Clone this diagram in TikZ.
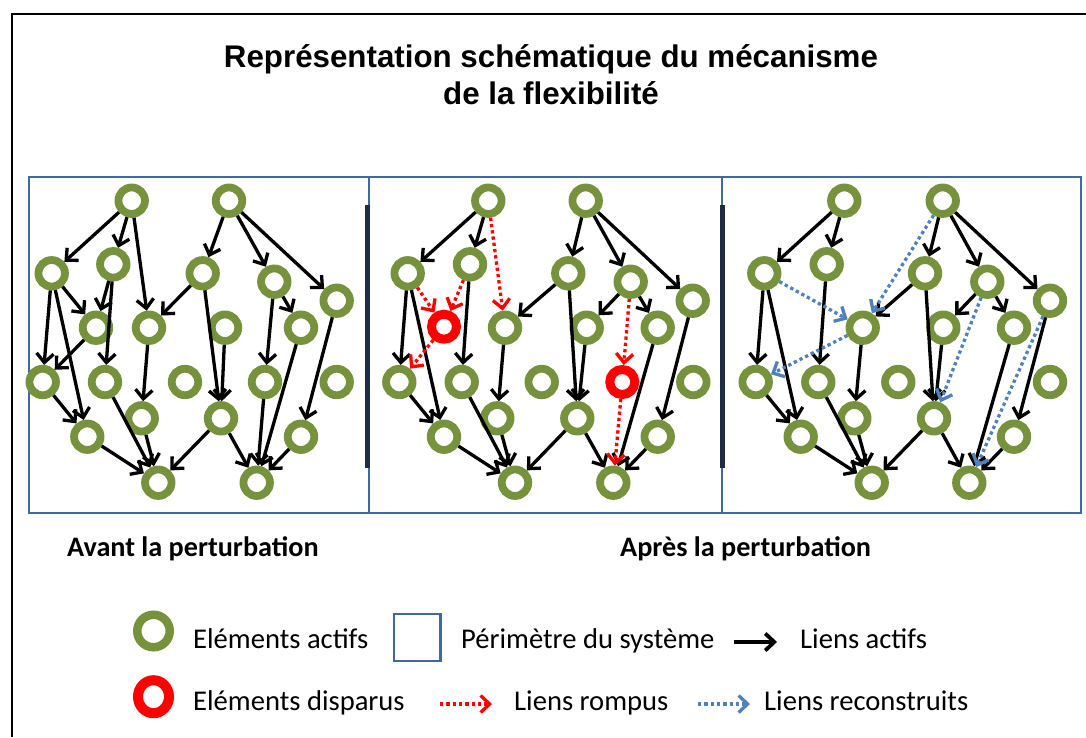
\documentclass[tikz,border=0pt]{standalone}
\usepackage{fontspec}
\setmainfont{Carlito}
\newfontfamily\titlefont{Liberation Sans}
\usetikzlibrary{arrows.meta,shapes.geometric}
\definecolor{ringgreen}{RGB}{118,146,60}
\definecolor{lostred}{RGB}{255,0,0}
\definecolor{frameblue}{RGB}{65,105,160}
\definecolor{rebuiltblue}{RGB}{79,129,189}
\definecolor{barnavy}{RGB}{31,45,68}
\newcommand\legfont{\fontsize{28.6}{34}\selectfont}
\newcommand\capfont{\fontsize{28.2}{34}\selectfont\bfseries}
\newcommand\ttlfont{\titlefont\bfseries\fontsize{31.3}{36}\selectfont}
\begin{document}
\begin{tikzpicture}[x=1pt,y=-1pt,
  elem/.style={circle, draw=ringgreen, line width=7.8pt, minimum size=26.5pt, inner sep=0pt},
  gone/.style={circle, draw=lostred, line width=9pt, minimum size=25pt, inner sep=0pt},
  link/.style={line width=3.3pt, -{Straight Barb[length=9pt,width=17pt]}},
  broken/.style={link, draw=lostred, dash pattern=on 3.3pt off 3pt},
  rebuilt/.style={link, draw=rebuiltblue, dash pattern=on 3.3pt off 3pt},
  lbl/.style={anchor=base west, inner sep=0pt, font=\legfont},
  panel/.style={draw=frameblue, line width=2.5pt},
  sep/.style={draw=barnavy, line width=5pt}
]
\useasboundingbox (0,0) rectangle (1086,737);
\fill[white] (0,0) rectangle (1086,737);
% outer frame
\draw[line width=2.5pt] (12,737) -- (12,14) -- (1086,14);
% title
\node[anchor=base, inner sep=0pt, font=\ttlfont] (title1) at (551,67) {Représentation schématique du mécanisme};
\node[anchor=base, inner sep=0pt, font=\ttlfont] (title2) at (551,104) {de la flexibilité};
% panels
\draw[panel] (29,177) rectangle (1081,513);
\draw[panel] (369,177) -- (369,513);
\draw[panel] (722,177) -- (722,513);
\draw[sep] (367.5,205) -- (367.5,468);
\draw[sep] (722.5,205) -- (722.5,468);
% panel 1 nodes
\foreach \n/\x/\y in {A/131.7/200.7, B/229/200.7, C/51.7/273.3, D/113.3/264.3, E/202.7/273.3,
  F/274.3/281.7, G/336.7/300.7, H/96/327.7, I/149/327.7, J/225/327.7, K/301/327.7,
  L/42.7/382, M/105/382, N/185/382, O/265/382, P/336.7/382, Q/141.7/418.3, R/221/418.3,
  S/87.3/436.7, T/301/436.7, U/158.3/482.7, V/256.7/482.7}
  \node[elem] (p1\n) at (\x,\y) {};
% panel 2 nodes
\foreach \n/\x/\y in {A/488.3/200.7, B/585.7/200.7, C/407.7/273.3, D/470/264.3, E/568.3/273.3,
  F/630.7/281.7, G/692.7/300.7, I/505/327.7, J/586.7/327.7, K/657.7/327.7,
  L/399.3/382, M/461.7/382, N/541.7/382, P/693.3/382, Q/497.3/418.3, R/577.3/418.3,
  S/444/436.7, T/657.7/436.7, U/515/482.7, V/613.3/482.7}
  \node[elem] (p2\n) at (\x,\y) {};
\node[gone] (p2X) at (444,326.7) {};
\node[gone] (p2Y) at (622.3,382) {};
% panel 3 nodes
\foreach \n/\x/\y in {A/844.3/200.7, B/942.7/200.7, C/764.3/273.3, D/826.7/264.3, E/925/273.3,
  F/987.3/281.7, G/1050/300.7, I/862.7/327.7, J/943.3/327.7, K/1014/327.7,
  L/755.7/382, M/818.3/382, N/898.3/382, P/1050/382, Q/854.3/418.3, R/934/418.3,
  S/800.7/436.7, T/1014/436.7, U/871.7/482.7, V/969.3/482.7}
  \node[elem] (p3\n) at (\x,\y) {};
% panel 1 links
\foreach \a/\b in {A/C, A/D, A/I, B/E, B/F, B/G, C/L, C/H, C/S, D/H, D/M, H/L, E/I, E/R,
  J/R, F/K, F/O, G/T, I/Q, L/S, M/U, Q/U, S/U, R/U, R/V, O/V, K/V, T/V}
  \draw[link] (p1\a) -- (p1\b);
% panel 2 links
\foreach \a/\b in {A/C, A/D, B/E, B/F, B/G, C/L, C/S, D/M, E/I, E/R, F/J, F/K, J/R, G/T,
  K/V, I/Q, L/S, M/U, Q/U, S/U, R/U, R/V, T/V}
  \draw[link] (p2\a) -- (p2\b);
\foreach \a/\b in {A/I, C/X, D/X, X/L, F/Y, Y/V}
  \draw[broken] (p2\a) -- (p2\b);
% panel 3 links
\foreach \a/\b in {A/C, A/D, B/E, B/F, B/G, C/L, C/S, D/M, E/I, E/R, F/J, F/K, J/R, G/T,
  K/V, I/Q, L/S, M/U, Q/U, S/U, R/U, R/V, T/V}
  \draw[link] (p3\a) -- (p3\b);
\foreach \a/\b in {C/I, B/I, I/L, F/R, G/V}
  \draw[rebuilt] (p3\a) -- (p3\b);
% captions
\node[anchor=base west, inner sep=0pt, font=\capfont] (cap1) at (67,556.7) {Avant la perturbation};
\node[anchor=base west, inner sep=0pt, font=\capfont] (cap2) at (620,556.7) {Après la perturbation};
% legend
\node[circle, draw=ringgreen, line width=8.5pt, minimum size=32.5pt, inner sep=0pt] (lg1) at (153.5,631) {};
\node[lbl] (lt1) at (193,648.3) {Eléments actifs};
\node[draw=frameblue, line width=2.5pt, minimum width=46.5pt, minimum height=47pt, inner sep=0pt] (lg2) at (417.3,637.5) {};
\node[lbl] (lt2) at (461,648.3) {Périmètre du système};
\coordinate (la1) at (734,642);
\coordinate (la2) at (777,642);
\draw[link, line width=3.8pt] (la1) -- (la2);
\node[lbl] (lt3) at (800,648.3) {Liens actifs};
\node[ellipse, draw=lostred, line width=10pt, minimum width=31pt, minimum height=33pt, inner sep=0pt] (lg3) at (153.5,696.7) {};
\node[lbl] (lt4) at (193,710) {Eléments disparus};
\coordinate (lb1) at (440,704);
\coordinate (lb2) at (492,704);
\draw[broken] (lb1) -- (lb2);
\node[lbl] (lt5) at (514,710) {Liens rompus};
\coordinate (lc1) at (698,704);
\coordinate (lc2) at (750,704);
\draw[rebuilt] (lc1) -- (lc2);
\node[lbl] (lt6) at (764,710) {Liens reconstruits};
\end{tikzpicture}
\end{document}
